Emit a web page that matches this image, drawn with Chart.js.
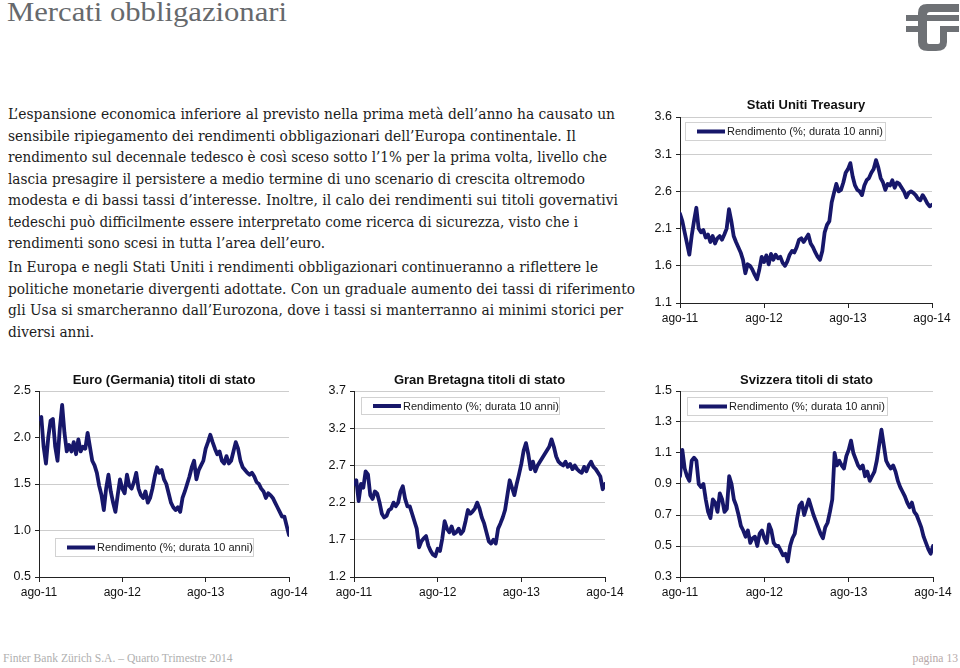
<!DOCTYPE html>
<html><head><meta charset="utf-8">
<script src="https://cdn.jsdelivr.net/npm/chart.js@4.4.1/dist/chart.umd.min.js"></script>
<style>
html,body{margin:0;padding:0;background:#fff;width:960px;height:668px;overflow:hidden;position:relative}
#pagetitle{position:absolute;left:7px;top:-4px;font-family:"Liberation Serif",serif;font-size:28px;color:#66696c;white-space:nowrap;transform-origin:0 50%;width:max-content}
.para{position:absolute;left:8px;font-family:"DejaVu Serif",serif;font-size:14.5px;line-height:21.5px;color:#1c1c1c}
.para div{white-space:nowrap;transform-origin:0 50%;width:max-content}
canvas.c{position:absolute}
.foot{position:absolute;top:652px;font-family:"Liberation Serif",serif;font-size:11.6px;color:#b0b0b0;white-space:nowrap}
</style></head>
<body>
<div id="pagetitle">Mercati obbligazionari</div>
<svg style="position:absolute;left:0;top:0" width="960" height="60">
<g fill="#6e7175">
<path d="M918 38 V13 Q918 4 927 4 H959 V12 H930 Q927 12 927 15 V38 Z"/>
<rect x="906" y="15" width="53" height="6"/>
<rect x="906" y="26" width="21" height="6"/>
<rect x="940" y="26" width="19" height="6"/>
<path d="M918 37 V42 Q918 51 928 51 H936 Q947 51 947 42 V26 H940 V42 Q940 44 938 44 H929 Q927 44 927 42 V37 Z"/>
</g></svg>

<div class="para" id="p1" style="top:104px">
<div>L’espansione economica inferiore al previsto nella prima metà dell’anno ha causato un</div>
<div>sensibile ripiegamento dei rendimenti obbligazionari dell’Europa continentale. Il</div>
<div>rendimento sul decennale tedesco è così sceso sotto l’1% per la prima volta, livello che</div>
<div>lascia presagire il persistere a medio termine di uno scenario di crescita oltremodo</div>
<div>modesta e di bassi tassi d’interesse. Inoltre, il calo dei rendimenti sui titoli governativi</div>
<div>tedeschi può difficilmente essere interpretato come ricerca di sicurezza, visto che i</div>
<div>rendimenti sono scesi in tutta l’area dell’euro.</div>
</div>
<div class="para" id="p2" style="top:257px">
<div>In Europa e negli Stati Uniti i rendimenti obbligazionari continueranno a riflettere le</div>
<div>politiche monetarie divergenti adottate. Con un graduale aumento dei tassi di riferimento</div>
<div>gli Usa si smarcheranno dall’Eurozona, dove i tassi si manterranno ai minimi storici per</div>
<div>diversi anni.</div>
</div>

<canvas class="c" id="cUS"></canvas>
<canvas class="c" id="cDE"></canvas>
<canvas class="c" id="cUK"></canvas>
<canvas class="c" id="cCH"></canvas>

<div class="foot" style="left:3px">Finter Bank Zürich S.A. – Quarto Trimestre 2014</div>
<div class="foot" style="right:2px;color:#b7a9a9">pagina 13</div>

<script>
// ---- data (10-year yields, %; one reading every ~10 days from ago-11 to ago-14) ----
const xTickValues = [0, 12, 24, 36];           // months since ago-11
const xTickLabels = ['ago-11', 'ago-12', 'ago-13', 'ago-14'];
const seriesLabel = 'Rendimento (%; durata 10 anni)';

const usTitle = 'Stati Uniti Treasury';
const deTitle = 'Euro (Germania) titoli di stato';
const ukTitle = 'Gran Bretagna titoli di stato';
const chTitle = 'Svizzera titoli di stato';

const usTicks = [1.1, 1.6, 2.1, 2.6, 3.1, 3.6];
const deTicks = [0.5, 1.0, 1.5, 2.0, 2.5];
const ukTicks = [1.2, 1.7, 2.2, 2.7, 3.2, 3.7];
const chTicks = [0.3, 0.5, 0.7, 0.9, 1.1, 1.3, 1.5];

const usYield = [
2.30,2.20,2.05,1.90,1.75,2.00,2.20,2.38,2.10,2.05,
2.08,1.98,2.02,1.92,2.00,1.90,1.97,2.00,1.95,2.02,
2.10,2.36,2.20,2.00,1.92,1.85,1.78,1.68,1.50,1.62,
1.60,1.55,1.48,1.42,1.55,1.72,1.65,1.74,1.62,1.76,
1.68,1.75,1.70,1.72,1.64,1.60,1.66,1.75,1.80,1.78,
1.85,1.95,1.97,1.92,1.97,2.02,1.90,1.85,1.78,1.72,
1.68,1.80,2.05,2.15,2.20,2.45,2.58,2.70,2.60,2.62,
2.72,2.85,2.90,2.98,2.80,2.68,2.62,2.60,2.55,2.68,
2.75,2.78,2.85,2.90,3.02,2.92,2.78,2.72,2.62,2.70,
2.68,2.75,2.65,2.72,2.70,2.65,2.60,2.52,2.58,2.60,
2.58,2.55,2.50,2.48,2.55,2.50,2.44,2.40,2.42];

const deYield = [
2.20,2.22,1.90,1.72,2.00,2.18,2.20,1.90,1.75,2.10,
2.35,2.05,1.85,1.92,1.85,1.95,1.82,1.98,1.85,1.90,
1.88,2.05,1.90,1.75,1.70,1.62,1.48,1.38,1.22,1.45,
1.60,1.42,1.30,1.20,1.38,1.55,1.45,1.40,1.60,1.48,
1.45,1.52,1.62,1.45,1.38,1.35,1.42,1.30,1.35,1.45,
1.58,1.68,1.62,1.65,1.55,1.50,1.40,1.30,1.25,1.22,
1.25,1.20,1.35,1.42,1.50,1.58,1.68,1.75,1.55,1.65,
1.70,1.75,1.88,1.95,2.03,1.95,1.88,1.82,1.85,1.75,
1.72,1.80,1.72,1.75,1.85,1.95,1.88,1.75,1.68,1.65,
1.62,1.60,1.62,1.58,1.52,1.50,1.45,1.42,1.35,1.40,
1.38,1.35,1.30,1.25,1.20,1.15,1.15,1.05,0.95];

const ukYield = [
2.45,2.50,2.22,2.45,2.40,2.62,2.58,2.30,2.25,2.35,
2.32,2.20,2.05,2.00,2.02,2.10,2.12,2.20,2.15,2.20,
2.35,2.42,2.25,2.15,2.15,2.05,1.95,1.85,1.60,1.68,
1.72,1.75,1.62,1.55,1.50,1.48,1.58,1.55,1.72,1.95,
1.85,1.80,1.88,1.78,1.80,1.85,1.78,1.82,1.95,2.10,
2.05,2.08,2.12,2.20,2.12,2.00,1.92,1.80,1.68,1.65,
1.70,1.65,1.85,1.92,2.00,2.10,2.30,2.50,2.40,2.30,
2.45,2.58,2.72,2.90,3.00,2.85,2.65,2.75,2.62,2.70,
2.75,2.80,2.85,2.90,2.95,3.05,2.95,2.82,2.75,2.72,
2.70,2.75,2.68,2.72,2.65,2.70,2.65,2.62,2.60,2.68,
2.62,2.70,2.75,2.68,2.65,2.60,2.55,2.38,2.45];

const chYield = [
0.95,1.12,1.00,0.95,0.92,1.05,1.07,1.05,0.90,0.88,
0.90,0.80,0.72,0.68,0.80,0.78,0.72,0.84,0.80,0.72,
0.74,0.95,0.90,0.80,0.76,0.70,0.63,0.60,0.56,0.60,
0.52,0.55,0.56,0.50,0.58,0.60,0.55,0.52,0.64,0.60,
0.52,0.50,0.50,0.47,0.44,0.45,0.40,0.50,0.55,0.58,
0.68,0.76,0.78,0.70,0.75,0.80,0.75,0.70,0.66,0.62,
0.58,0.55,0.62,0.65,0.72,0.80,1.10,1.02,1.05,1.02,
1.00,1.08,1.12,1.18,1.10,1.06,1.02,1.00,1.02,0.95,
0.98,0.92,0.95,0.98,1.05,1.15,1.25,1.15,1.05,1.02,
1.00,1.02,0.98,0.92,0.88,0.85,0.82,0.78,0.75,0.78,
0.72,0.70,0.66,0.62,0.56,0.52,0.48,0.45,0.50];

// ---- text fitting (layout only) ----
function fitWidth(el, target) {
  const w = el.getBoundingClientRect().width;
  el.style.transform = 'scaleX(' + (target / w) + ')';
}
fitWidth(document.getElementById('pagetitle'), 280);
const lineEnds = {p1:[615,576,607,585,618,578,325], p2:[598,635,623,94]};
for (const id of ['p1','p2']) {
  document.querySelectorAll('#'+id+' div').forEach((d,i)=> fitWidth(d, lineEnds[id][i] - 8));
}

// ---- charts ----
const LINE_COLOR = '#17176a';
const FONT = '"Liberation Sans", Arial, sans-serif';

const legendBox = {
  id: 'legendBox',
  afterDatasetsDraw(chart, args, o) {
    const {ctx, chartArea: a} = chart;
    const ds = chart.data.datasets[0];
    const x = Math.round(a.left + o.dx);
    const y = Math.round(o.fromBottom ? a.bottom - o.dy - o.h : a.top + o.dy);
    ctx.save();
    ctx.fillStyle = '#fff';
    ctx.fillRect(x, y, o.w, o.h);
    ctx.strokeStyle = '#d2d2d2';
    ctx.lineWidth = 1;
    ctx.strokeRect(x + 0.5, y + 0.5, o.w, o.h);
    ctx.strokeStyle = ds.borderColor;
    ctx.lineWidth = 4;
    ctx.beginPath();
    ctx.moveTo(x + 12, y + o.h / 2 + 0.5);
    ctx.lineTo(x + 40, y + o.h / 2 + 0.5);
    ctx.stroke();
    ctx.fillStyle = '#1a1a1a';
    ctx.font = '11px ' + FONT;
    ctx.textBaseline = 'middle';
    ctx.fillText(ds.label, x + 42, y + o.h / 2 + 1);
    ctx.restore();
  }
};

function makeChart(id, title, values, ticks, area, legend, titleOffset) {
  const cv = document.getElementById(id);
  const PADL = 45, PADT = 30, PADR = 25, PADB = 30;
  cv.width = area.R - area.L + PADL + PADR;
  cv.height = area.B - area.T + PADT + PADB;
  cv.style.left = (area.L - PADL) + 'px';
  cv.style.top = (area.T - PADT) + 'px';
  const titleTop = PADT - titleOffset - 7.8;
  const pts = values.map((v, i) => ({x: i / 3, y: v}));
  return new Chart(cv, {
    type: 'line',
    data: {datasets: [{label: seriesLabel, data: pts, borderColor: LINE_COLOR,
      backgroundColor: LINE_COLOR, borderWidth: 3.8, pointRadius: 0, tension: 0,
      fill: false, borderJoinStyle: 'round', borderCapStyle: 'round'}]},
    options: {
      responsive: false, animation: false, devicePixelRatio: 1,
      layout: {padding: {left: 0, right: PADR, top: 0, bottom: 0}},
      plugins: {
        legend: {display: false},
        tooltip: {enabled: false},
        title: {display: true, text: title, fullSize: false, color: '#111',
          font: {family: FONT, size: 13, weight: 'bold', lineHeight: 1.2},
          padding: {top: titleTop, bottom: PADT - titleTop - 15.6}},
        legendBox: legend
      },
      scales: {
        x: {
          type: 'linear', min: 0, max: 36,
          afterBuildTicks: s => { s.ticks = xTickValues.map(v => ({value: v})); },
          ticks: {callback: v => xTickLabels[xTickValues.indexOf(v)], color: '#111',
            font: {family: FONT, size: 12}, padding: 3, maxRotation: 0, autoSkip: false},
          grid: {drawOnChartArea: false, drawTicks: true, tickLength: 5, color: '#222'},
          border: {color: '#222', width: 1},
          afterFit: s => { s.height = PADB; s.paddingLeft = 0; s.paddingRight = 0; }
        },
        y: {
          type: 'linear', min: ticks[0], max: ticks[ticks.length - 1],
          afterBuildTicks: s => { s.ticks = ticks.map(v => ({value: v})); },
          ticks: {callback: v => v.toFixed(1), color: '#111',
            font: {family: FONT, size: 12.5}, padding: 4},
          grid: {color: '#cdcdcd', tickColor: '#222', drawTicks: true, tickLength: 4},
          border: {color: '#222', width: 1},
          afterFit: s => { s.width = PADL; s.paddingTop = 0; s.paddingBottom = 0; }
        }
      }
    },
    plugins: [legendBox]
  });
}

makeChart('cUS', usTitle, usYield, usTicks, {L: 680, T: 117, R: 932, B: 303},
  {dx: 5, dy: 5, w: 200, h: 18, fromBottom: false}, 12);
makeChart('cDE', deTitle, deYield, deTicks, {L: 39, T: 391, R: 289, B: 577},
  {dx: 16, dy: 21, w: 198, h: 18, fromBottom: true}, 11);
makeChart('cUK', ukTitle, ukYield, ukTicks, {L: 354, T: 391, R: 605, B: 577},
  {dx: 7, dy: 6, w: 198, h: 17, fromBottom: false}, 11);
makeChart('cCH', chTitle, chYield, chTicks, {L: 680, T: 391, R: 933, B: 577},
  {dx: 7, dy: 6, w: 200, h: 18, fromBottom: false}, 11);
</script>
</body></html>
